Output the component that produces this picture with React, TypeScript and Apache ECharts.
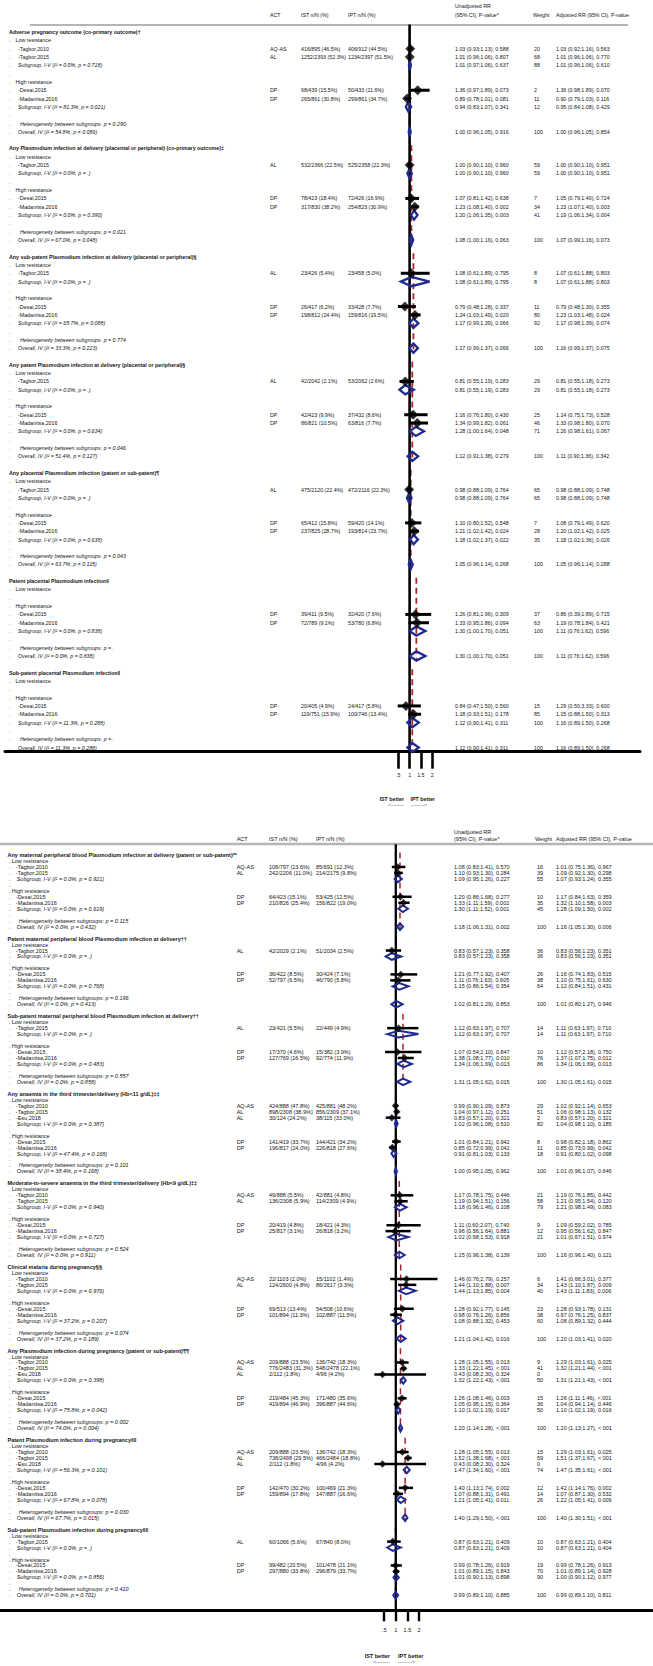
import React, { useEffect, useRef } from "react";
import * as echarts from "echarts";

type Row = (string | number)[];

// Row kinds: T = outcome title, G = resistance group, S = study, D = subgroup pooled,
// "." = spacer dot, H = heterogeneity, O = overall pooled, B = blank
// Study / pooled rows: [kind, label, ACT, IST n/N, IPT n/N, RR, lo, hi, p, weight, adjusted]

// ---------------- TOP PANEL ----------------
const adverseOutcome: Row[] = [
  ["T", "Adverse pregnancy outcome (co-primary outcome)†"],
  ["G", "Low resistance"],
  ["S", "-Tagbor,2010", "AQ-AS", "416/895 (46.5%)", "406/912 (44.5%)", 1.03, 0.93, 1.13, "0.588", "20", "1.03 (0.92;1.16), 0.563"],
  ["S", "-Tagbor,2015", "AL", "1252/2393 (52.3%)", "1234/2397 (51.5%)", 1.01, 0.96, 1.06, "0.807", "68", "1.01 (0.96;1.06), 0.770"],
  ["D", "Subgroup, I-V (I² = 0.0%, p = 0.718)", "", "", "", 1.01, 0.97, 1.06, "0.637", "88", "1.01 (0.96;1.06), 0.610"],
  [".", ""],
  ["G", "High resistance"],
  ["S", "-Desai,2015", "DP", "68/439 (15.5%)", "50/433 (11.6%)", 1.36, 0.97, 1.89, "0.073", "2", "1.36 (0.98;1.89), 0.070"],
  ["S", "-Madanitsa,2016", "DP", "265/861 (30.8%)", "299/861 (34.7%)", 0.89, 0.78, 1.01, "0.081", "11", "0.90 (0.79;1.03), 0.116"],
  ["D", "Subgroup, I-V (I² = 81.3%, p = 0.021)", "", "", "", 0.94, 0.83, 1.07, "0.341", "12", "0.95 (0.84;1.08), 0.429"],
  [".", ""],
  ["H", "Heterogeneity between subgroups: p = 0.290"],
  ["O", "Overall, IV (I² = 54.8%, p = 0.086)", "", "", "", 1.0, 0.96, 1.05, "0.916", "100", "1.00 (0.96;1.05), 0.854"],
];

const anyInfectionDelivery: Row[] = [
  ["T", "Any Plasmodium infection at delivery (placental or peripheral) (co-primary outcome)‡"],
  ["G", "Low resistance"],
  ["S", "-Tagbor,2015", "AL", "532/2366 (22.5%)", "525/2358 (22.3%)", 1.0, 0.9, 1.1, "0.960", "59", "1.00 (0.90;1.10), 0.951"],
  ["D", "Subgroup, I-V (I² = 0.0%, p = .)", "", "", "", 1.0, 0.9, 1.1, "0.960", "59", "1.00 (0.90;1.10), 0.951"],
  [".", ""],
  ["G", "High resistance"],
  ["S", "-Desai,2015", "DP", "78/423 (18.4%)", "72/426 (16.9%)", 1.07, 0.81, 1.42, "0.638", "7", "1.05 (0.79;1.40), 0.724"],
  ["S", "-Madanitsa,2016", "DP", "317/830 (38.2%)", "254/823 (30.9%)", 1.23, 1.08, 1.4, "0.002", "34", "1.23 (1.07;1.40), 0.003"],
  ["D", "Subgroup, I-V (I² = 0.0%, p = 0.390)", "", "", "", 1.2, 1.06, 1.35, "0.003", "41", "1.19 (1.06;1.34), 0.004"],
  [".", ""],
  ["H", "Heterogeneity between subgroups: p = 0.021"],
  ["O", "Overall, IV (I² = 67.0%, p = 0.048)", "", "", "", 1.08, 1.0, 1.16, "0.063", "100", "1.07 (0.99;1.16), 0.073"],
];

const subPatentDelivery: Row[] = [
  ["T", "Any sub-patent Plasmodium infection at delivery (placental or peripheral)§"],
  ["G", "Low resistance"],
  ["S", "-Tagbor,2015", "AL", "23/426 (5.4%)", "23/458 (5.0%)", 1.08, 0.61, 1.89, "0.795", "8", "1.07 (0.61;1.88), 0.803"],
  ["D", "Subgroup, I-V (I² = 0.0%, p = .)", "", "", "", 1.08, 0.61, 1.89, "0.795", "8", "1.07 (0.61;1.88), 0.803"],
  [".", ""],
  ["G", "High resistance"],
  ["S", "-Desai,2015", "DP", "26/417 (6.2%)", "33/428 (7.7%)", 0.79, 0.48, 1.28, "0.337", "11", "0.79 (0.48;1.30), 0.355"],
  ["S", "-Madanitsa,2016", "DP", "198/812 (24.4%)", "159/816 (19.5%)", 1.24, 1.03, 1.49, "0.020", "80", "1.23 (1.03;1.48), 0.024"],
  ["D", "Subgroup, I-V (I² = 65.7%, p = 0.088)", "", "", "", 1.17, 0.99, 1.39, "0.066", "92", "1.17 (0.98;1.39), 0.074"],
  [".", ""],
  ["H", "Heterogeneity between subgroups: p = 0.774"],
  ["O", "Overall, IV (I² = 33.3%, p = 0.223)", "", "", "", 1.17, 0.99, 1.37, "0.066", "100", "1.16 (0.99;1.37), 0.075"],
];

const patentDelivery: Row[] = [
  ["T", "Any patent Plasmodium infection at delivery (placental or peripheral)§"],
  ["G", "Low resistance"],
  ["S", "-Tagbor,2015", "AL", "42/2042 (2.1%)", "53/2062 (2.6%)", 0.81, 0.55, 1.19, "0.283", "29", "0.81 (0.55;1.18), 0.273"],
  ["D", "Subgroup, I-V (I² = 0.0%, p = .)", "", "", "", 0.81, 0.55, 1.19, "0.283", "29", "0.81 (0.55;1.18), 0.273"],
  [".", ""],
  ["G", "High resistance"],
  ["S", "-Desai,2015", "DP", "42/423 (9.9%)", "37/432 (8.6%)", 1.16, 0.76, 1.8, "0.430", "25", "1.14 (0.75;1.73), 0.528"],
  ["S", "-Madanitsa,2016", "DP", "86/821 (10.5%)", "63/816 (7.7%)", 1.34, 0.99, 1.82, "0.061", "46", "1.33 (0.98;1.80), 0.070"],
  ["D", "Subgroup, I-V (I² = 0.0%, p = 0.634)", "", "", "", 1.28, 1.0, 1.64, "0.048", "71", "1.26 (0.98;1.61), 0.067"],
  [".", ""],
  ["H", "Heterogeneity between subgroups: p = 0.046"],
  ["O", "Overall, IV (I² = 51.4%, p = 0.127)", "", "", "", 1.12, 0.91, 1.38, "0.279", "100", "1.11 (0.90;1.36), 0.342"],
];

const anyPlacental: Row[] = [
  ["T", "Any placental Plasmodium infection (patent or sub-patent)¶"],
  ["G", "Low resistance"],
  ["S", "-Tagbor,2015", "AL", "475/2120 (22.4%)", "472/2116 (22.3%)", 0.98, 0.88, 1.09, "0.764", "65", "0.98 (0.88;1.09), 0.748"],
  ["D", "Subgroup, I-V (I² = 0.0%, p = .)", "", "", "", 0.98, 0.88, 1.09, "0.764", "65", "0.98 (0.88;1.09), 0.748"],
  [".", ""],
  ["G", "High resistance"],
  ["S", "-Desai,2015", "DP", "65/412 (15.8%)", "59/420 (14.1%)", 1.1, 0.8, 1.52, "0.548", "7", "1.08 (0.79;1.49), 0.620"],
  ["S", "-Madanitsa,2016", "DP", "237/825 (28.7%)", "193/814 (23.7%)", 1.21, 1.02, 1.42, "0.024", "28", "1.20 (1.02;1.42), 0.025"],
  ["D", "Subgroup, I-V (I² = 0.0%, p = 0.638)", "", "", "", 1.18, 1.02, 1.37, "0.022", "35", "1.18 (1.02;1.36), 0.026"],
  [".", ""],
  ["H", "Heterogeneity between subgroups: p = 0.043"],
  ["O", "Overall, IV (I² = 63.7%, p = 0.115)", "", "", "", 1.05, 0.96, 1.14, "0.268", "100", "1.05 (0.96;1.14), 0.288"],
];

const patentPlacental: Row[] = [
  ["T", "Patent placental Plasmodium infection‖"],
  ["G", "Low resistance"],
  [".", ""],
  ["G", "High resistance"],
  ["S", "-Desai,2015", "DP", "39/411 (9.5%)", "32/420 (7.6%)", 1.26, 0.81, 1.96, "0.309", "37", "0.86 (0.39;1.89), 0.715"],
  ["S", "-Madanitsa,2016", "DP", "72/789 (9.1%)", "53/780 (6.8%)", 1.33, 0.95, 1.86, "0.094", "63", "1.19 (0.78;1.84), 0.421"],
  ["D", "Subgroup, I-V (I² = 0.0%, p = 0.838)", "", "", "", 1.3, 1.0, 1.7, "0.051", "100", "1.11 (0.76;1.62), 0.596"],
  [".", ""],
  ["H", "Heterogeneity between subgroups: p = ."],
  ["O", "Overall, IV (I² = 0.0%, p = 0.838)", "", "", "", 1.3, 1.0, 1.7, "0.051", "100", "1.11 (0.76;1.62), 0.596"],
];

const subPatentPlacental: Row[] = [
  ["T", "Sub-patent placental Plasmodium infection‖"],
  ["G", "Low resistance"],
  [".", ""],
  ["G", "High resistance"],
  ["S", "-Desai,2015", "DP", "20/405 (4.9%)", "24/417 (5.8%)", 0.84, 0.47, 1.5, "0.560", "15", "1.29 (0.50;3.33), 0.600"],
  ["S", "-Madanitsa,2016", "DP", "119/751 (15.9%)", "100/746 (13.4%)", 1.18, 0.93, 1.51, "0.178", "85", "1.15 (0.88;1.50), 0.313"],
  ["D", "Subgroup, I-V (I² = 11.3%, p = 0.288)", "", "", "", 1.12, 0.9, 1.41, "0.311", "100", "1.16 (0.89;1.50), 0.268"],
  [".", ""],
  ["H", "Heterogeneity between subgroups: p = ."],
  ["O", "Overall, IV (I² = 11.3%, p = 0.288)", "", "", "", 1.12, 0.9, 1.41, "0.311", "100", "1.16 (0.89;1.50), 0.268"],
];

// ---------------- BOTTOM PANEL ----------------
const anyPeripheral: Row[] = [
  ["T", "Any maternal peripheral blood Plasmodium infection at delivery (patent or sub-patent)**"],
  ["G", "Low resistance"],
  ["S", "-Tagbor,2010", "AQ-AS", "108/797 (13.6%)", "85/691 (12.3%)", 1.08, 0.83, 1.41, "0.570", "16", "1.01 (0.75;1.36), 0.967"],
  ["S", "-Tagbor,2015", "AL", "242/2206 (11.0%)", "214/2175 (9.8%)", 1.1, 0.93, 1.3, "0.284", "39", "1.09 (0.92;1.30), 0.298"],
  ["D", "Subgroup, I-V (I² = 0.0%, p = 0.921)", "", "", "", 1.09, 0.95, 1.26, "0.227", "55", "1.07 (0.93;1.24), 0.355"],
  [".", ""],
  ["G", "High resistance"],
  ["S", "-Desai,2015", "DP", "64/423 (15.1%)", "53/425 (12.5%)", 1.2, 0.86, 1.68, "0.277", "10", "1.17 (0.84;1.63), 0.359"],
  ["S", "-Madanitsa,2016", "DP", "210/826 (25.4%)", "156/822 (19.0%)", 1.33, 1.11, 1.59, "0.002", "35", "1.32 (1.10;1.58), 0.003"],
  ["D", "Subgroup, I-V (I² = 0.0%, p = 0.619)", "", "", "", 1.3, 1.11, 1.52, "0.001", "45", "1.28 (1.09;1.50), 0.002"],
  [".", ""],
  ["H", "Heterogeneity between subgroups: p = 0.115"],
  ["O", "Overall, IV (I² = 0.0%, p = 0.432)", "", "", "", 1.18, 1.06, 1.31, "0.002", "100", "1.16 (1.05;1.30), 0.006"],
];

const patentPeripheral: Row[] = [
  ["T", "Patent maternal peripheral blood Plasmodium infection at delivery††"],
  ["G", "Low resistance"],
  ["S", "-Tagbor,2015", "AL", "42/2029 (2.1%)", "51/2034 (2.5%)", 0.83, 0.57, 1.23, "0.358", "36", "0.83 (0.56;1.23), 0.351"],
  ["D", "Subgroup, I-V (I² = 0.0%, p = .)", "", "", "", 0.83, 0.57, 1.23, "0.358", "36", "0.83 (0.56;1.23), 0.351"],
  [".", ""],
  ["G", "High resistance"],
  ["S", "-Desai,2015", "DP", "36/422 (8.5%)", "30/424 (7.1%)", 1.21, 0.77, 1.92, "0.407", "26", "1.16 (0.74;1.83), 0.515"],
  ["S", "-Madanitsa,2016", "DP", "52/797 (6.5%)", "46/790 (5.8%)", 1.11, 0.76, 1.63, "0.605", "38", "1.10 (0.75;1.61), 0.630"],
  ["D", "Subgroup, I-V (I² = 0.0%, p = 0.768)", "", "", "", 1.15, 0.86, 1.54, "0.354", "64", "1.12 (0.84;1.51), 0.431"],
  [".", ""],
  ["H", "Heterogeneity between subgroups: p = 0.196"],
  ["O", "Overall, IV (I² = 0.0%, p = 0.413)", "", "", "", 1.02, 0.81, 1.29, "0.853", "100", "1.01 (0.80;1.27), 0.946"],
];

const subPatentPeripheral: Row[] = [
  ["T", "Sub-patent maternal peripheral blood Plasmodium infection at delivery††"],
  ["G", "Low resistance"],
  ["S", "-Tagbor,2015", "AL", "23/421 (5.5%)", "22/449 (4.9%)", 1.12, 0.63, 1.97, "0.707", "14", "1.11 (0.63;1.97), 0.710"],
  ["D", "Subgroup, I-V (I² = 0.0%, p = .)", "", "", "", 1.12, 0.63, 1.97, "0.707", "14", "1.11 (0.63;1.97), 0.710"],
  [".", ""],
  ["G", "High resistance"],
  ["S", "-Desai,2015", "DP", "17/370 (4.6%)", "15/382 (3.9%)", 1.07, 0.54, 2.1, "0.847", "10", "1.12 (0.57;2.18), 0.750"],
  ["S", "-Madanitsa,2016", "DP", "127/769 (16.5%)", "92/774 (11.9%)", 1.38, 1.08, 1.77, "0.010", "76", "1.37 (1.07;1.75), 0.012"],
  ["D", "Subgroup, I-V (I² = 0.0%, p = 0.483)", "", "", "", 1.34, 1.06, 1.69, "0.013", "86", "1.34 (1.06;1.69), 0.013"],
  [".", ""],
  ["H", "Heterogeneity between subgroups: p = 0.557"],
  ["O", "Overall, IV (I² = 0.0%, p = 0.858)", "", "", "", 1.31, 1.05, 1.62, "0.015", "100", "1.30 (1.05;1.61), 0.015"],
];

const anyAnaemia: Row[] = [
  ["T", "Any anaemia in the third trimester/delivery (Hb<11 g/dL)‡‡"],
  ["G", "Low resistance"],
  ["S", "-Tagbor,2010", "AQ-AS", "424/888 (47.8%)", "425/881 (48.2%)", 0.99, 0.9, 1.09, "0.873", "29", "1.02 (0.92;1.14), 0.653"],
  ["S", "-Tagbor,2015", "AL", "898/2308 (38.9%)", "856/2309 (37.1%)", 1.04, 0.97, 1.12, "0.251", "51", "1.06 (0.98;1.13), 0.132"],
  ["S", "-Esu,2018", "AL", "30/124 (24.2%)", "38/115 (33.0%)", 0.83, 0.57, 1.2, "0.321", "2", "0.83 (0.57;1.20), 0.321"],
  ["D", "Subgroup, I-V (I² = 0.0%, p = 0.387)", "", "", "", 1.02, 0.96, 1.08, "0.510", "82", "1.04 (0.98;1.10), 0.185"],
  [".", ""],
  ["G", "High resistance"],
  ["S", "-Desai,2015", "DP", "141/419 (33.7%)", "144/421 (34.2%)", 1.01, 0.84, 1.21, "0.942", "8", "0.98 (0.82;1.18), 0.862"],
  ["S", "-Madanitsa,2016", "DP", "196/817 (24.0%)", "226/818 (27.6%)", 0.85, 0.72, 0.99, "0.042", "11", "0.85 (0.73;0.99), 0.042"],
  ["D", "Subgroup, I-V (I² = 47.4%, p = 0.168)", "", "", "", 0.91, 0.81, 1.03, "0.133", "18", "0.91 (0.80;1.02), 0.098"],
  [".", ""],
  ["H", "Heterogeneity between subgroups: p = 0.101"],
  ["O", "Overall, IV (I² = 38.4%, p = 0.168)", "", "", "", 1.0, 0.95, 1.05, "0.962", "100", "1.01 (0.96;1.07), 0.646"],
];

const severeAnaemia: Row[] = [
  ["T", "Moderate-to-severe anaemia in the third trimester/delivery (Hb<9 g/dL)‡‡"],
  ["G", "Low resistance"],
  ["S", "-Tagbor,2010", "AQ-AS", "49/888 (5.5%)", "42/881 (4.8%)", 1.17, 0.78, 1.75, "0.446", "21", "1.19 (0.76;1.85), 0.442"],
  ["S", "-Tagbor,2015", "AL", "136/2308 (5.9%)", "114/2309 (4.9%)", 1.19, 0.94, 1.51, "0.156", "58", "1.21 (0.95;1.54), 0.120"],
  ["D", "Subgroup, I-V (I² = 0.0%, p = 0.940)", "", "", "", 1.18, 0.96, 1.46, "0.108", "79", "1.21 (0.98;1.49), 0.083"],
  [".", ""],
  ["G", "High resistance"],
  ["S", "-Desai,2015", "DP", "20/419 (4.8%)", "18/421 (4.3%)", 1.11, 0.6, 2.07, "0.740", "9", "1.09 (0.59;2.02), 0.785"],
  ["S", "-Madanitsa,2016", "DP", "25/817 (3.1%)", "26/818 (3.2%)", 0.96, 0.56, 1.64, "0.881", "12", "0.95 (0.56;1.62), 0.847"],
  ["D", "Subgroup, I-V (I² = 0.0%, p = 0.727)", "", "", "", 1.02, 0.68, 1.53, "0.918", "21", "1.01 (0.67;1.51), 0.974"],
  [".", ""],
  ["H", "Heterogeneity between subgroups: p = 0.524"],
  ["O", "Overall, IV (I² = 0.0%, p = 0.911)", "", "", "", 1.15, 0.96, 1.38, "0.139", "100", "1.16 (0.96;1.40), 0.121"],
];

const clinicalMalaria: Row[] = [
  ["T", "Clinical malaria during pregnancy§§"],
  ["G", "Low resistance"],
  ["S", "-Tagbor,2010", "AQ-AS", "22/1103 (2.0%)", "15/1102 (1.4%)", 1.46, 0.76, 2.79, "0.257", "6", "1.41 (0.66;3.01), 0.377"],
  ["S", "-Tagbor,2015", "AL", "124/2600 (4.8%)", "86/2617 (3.3%)", 1.44, 1.1, 1.88, "0.007", "34", "1.43 (1.10;1.87), 0.009"],
  ["D", "Subgroup, I-V (I² = 0.0%, p = 0.976)", "", "", "", 1.44, 1.13, 1.85, "0.004", "40", "1.43 (1.11;1.83), 0.006"],
  [".", ""],
  ["G", "High resistance"],
  ["S", "-Desai,2015", "DP", "69/513 (13.4%)", "54/508 (10.6%)", 1.28, 0.92, 1.77, "0.145", "23", "1.28 (0.93;1.78), 0.131"],
  ["S", "-Madanitsa,2016", "DP", "101/894 (11.3%)", "102/887 (11.5%)", 0.98, 0.76, 1.26, "0.856", "38", "0.97 (0.76;1.25), 0.837"],
  ["D", "Subgroup, I-V (I² = 37.2%, p = 0.207)", "", "", "", 1.08, 0.88, 1.32, "0.453", "60", "1.08 (0.89;1.32), 0.444"],
  [".", ""],
  ["H", "Heterogeneity between subgroups: p = 0.074"],
  ["O", "Overall, IV (I² = 37.2%, p = 0.189)", "", "", "", 1.21, 1.04, 1.42, "0.016", "100", "1.20 (1.03;1.41), 0.020"],
];

const anyPregnancyInfection: Row[] = [
  ["T", "Any Plasmodium infection during pregnancy (patent or sub-patent)¶¶"],
  ["G", "Low resistance"],
  ["S", "-Tagbor,2010", "AQ-AS", "209/888 (23.5%)", "136/742 (18.3%)", 1.28, 1.05, 1.55, "0.013", "9", "1.29 (1.03;1.61), 0.025"],
  ["S", "-Tagbor,2015", "AL", "776/2483 (31.3%)", "548/2478 (22.1%)", 1.33, 1.22, 1.45, "<.001", "41", "1.32 (1.21;1.44), <.001"],
  ["S", "-Esu,2018", "AL", "2/112 (1.8%)", "4/96 (4.2%)", 0.43, 0.08, 2.3, "0.324", "0", ""],
  ["D", "Subgroup, I-V (I² = 0.0%, p = 0.398)", "", "", "", 1.32, 1.22, 1.43, "<.001", "50", "1.31 (1.21;1.43), <.001"],
  [".", ""],
  ["G", "High resistance"],
  ["S", "-Desai,2015", "DP", "219/484 (45.3%)", "171/480 (35.6%)", 1.26, 1.08, 1.46, "0.003", "15", "1.26 (1.11;1.46), <.001"],
  ["S", "-Madanitsa,2016", "DP", "419/894 (46.9%)", "396/887 (44.6%)", 1.05, 0.95, 1.15, "0.364", "36", "1.04 (0.94;1.14), 0.446"],
  ["D", "Subgroup, I-V (I² = 75.8%, p = 0.042)", "", "", "", 1.1, 1.02, 1.19, "0.017", "50", "1.10 (1.02;1.19), 0.016"],
  [".", ""],
  ["H", "Heterogeneity between subgroups: p = 0.002"],
  ["O", "Overall, IV (I² = 74.0%, p = 0.004)", "", "", "", 1.2, 1.14, 1.28, "<.001", "100", "1.20 (1.13;1.27), <.001"],
];

const patentPregnancy: Row[] = [
  ["T", "Patent Plasmodium infection during pregnancy‖‖"],
  ["G", "Low resistance"],
  ["S", "-Tagbor,2010", "AQ-AS", "209/888 (23.5%)", "136/742 (18.3%)", 1.28, 1.05, 1.55, "0.013", "15", "1.29 (1.03;1.61), 0.025"],
  ["S", "-Tagbor,2015", "AL", "738/2498 (29.5%)", "466/2484 (18.8%)", 1.52, 1.38, 1.68, "<.001", "59", "1.51 (1.37;1.67), <.001"],
  ["S", "-Esu,2018", "AL", "2/112 (1.8%)", "4/96 (4.2%)", 0.43, 0.08, 2.3, "0.324", "0", ""],
  ["D", "Subgroup, I-V (I² = 56.3%, p = 0.101)", "", "", "", 1.47, 1.34, 1.6, "<.001", "74", "1.47 (1.35;1.61), <.001"],
  [".", ""],
  ["G", "High resistance"],
  ["S", "-Desai,2015", "DP", "142/470 (30.2%)", "100/469 (21.3%)", 1.4, 1.13, 1.74, "0.002", "12", "1.42 (1.14;1.76), 0.002"],
  ["S", "-Madanitsa,2016", "DP", "159/894 (17.8%)", "147/887 (16.6%)", 1.07, 0.88, 1.31, "0.491", "14", "1.07 (0.87;1.30), 0.532"],
  ["D", "Subgroup, I-V (I² = 67.8%, p = 0.078)", "", "", "", 1.21, 1.05, 1.41, "0.011", "26", "1.22 (1.05;1.41), 0.009"],
  [".", ""],
  ["H", "Heterogeneity between subgroups: p = 0.030"],
  ["O", "Overall, IV (I² = 67.7%, p = 0.015)", "", "", "", 1.4, 1.29, 1.5, "<.001", "100", "1.40 (1.30;1.51), <.001"],
];

const subPatentPregnancy: Row[] = [
  ["T", "Sub-patent Plasmodium infection during pregnancy‖‖"],
  ["G", "Low resistance"],
  ["S", "-Tagbor,2015", "AL", "60/1066 (5.6%)", "67/840 (8.0%)", 0.87, 0.63, 1.21, "0.409", "10", "0.87 (0.63;1.21), 0.404"],
  ["D", "Subgroup, I-V (I² = 0.0%, p = .)", "", "", "", 0.87, 0.63, 1.21, "0.409", "10", "0.87 (0.63;1.21), 0.404"],
  [".", ""],
  ["G", "High resistance"],
  ["S", "-Desai,2015", "DP", "99/482 (20.5%)", "101/478 (21.1%)", 0.99, 0.78, 1.26, "0.919", "19", "0.99 (0.78;1.26), 0.913"],
  ["S", "-Madanitsa,2016", "DP", "297/880 (33.8%)", "296/879 (33.7%)", 1.01, 0.89, 1.15, "0.843", "70", "1.01 (0.89;1.14), 0.928"],
  ["D", "Subgroup, I-V (I² = 0.0%, p = 0.856)", "", "", "", 1.01, 0.9, 1.13, "0.898", "90", "1.00 (0.90;1.12), 0.977"],
  [".", ""],
  ["H", "Heterogeneity between subgroups: p = 0.410"],
  ["O", "Overall, IV (I² = 0.0%, p = 0.701)", "", "", "", 0.99, 0.89, 1.1, "0.885", "100", "0.99 (0.89;1.10), 0.811"],
];

const topSections = [adverseOutcome, anyInfectionDelivery, subPatentDelivery, patentDelivery, anyPlacental, patentPlacental, subPatentPlacental];
const bottomSections = [anyPeripheral, patentPeripheral, subPatentPeripheral, anyAnaemia, severeAnaemia, clinicalMalaria, anyPregnancyInfection, patentPregnancy, subPatentPregnancy];

const tickValues = [0.5, 1, 1.5, 2];
const tickLabels = [".5", "1", "1.5", "2"];
const headerRow1 = ["Unadjusted RR"];
const headerRow2 = ["ACT", "IST n/N (%)", "IPT n/N (%)", "(95% CI), P-value*", "Weight", "Adjusted RR (95% CI), P-value"];
const directionLabels = ["IST better", "IPT better"];
const arrowLabels = ["<---------", "--------->"];

// ---------------- STYLE / LAYOUT ----------------
const FONT = "'Liberation Sans', Arial, Helvetica, sans-serif";
const TEXT = "#151515";
const NAVY = "#1f2a8f";
const MAROON = "#a3262d";

const PANEL_STYLE = [
  {
    grid: { left: 5, right: 13, top: 24.5, height: 727.2 },
    xMin: -16.982, xMax: 11.24, yMin: -0.9, yMax: 86.5,
    font: 5.3,
    x: { dot: 9, title: 9, group: 15.5, study: 18, sub: 18, het: 20, overall: 18, act: 270, ist: 301, ipt: 348, unadj: 455, weight: 534, wHead: 533, adj: 556 },
    header: { y1: 6, y2: 15, line: { x1: 30, x2: 628, y: 25, w: 2 } },
    dir: { y: 799, ay: 805, xr: 404, xl: 410.5 },
    marker: 10, ciW: 3, dH: 4.6, dLW: 2.3, nullW: 2.6, dashW: 1.8, tickLen: 17, tickW: 2.6, axisW: 3, labelMargin: 21,
  },
  {
    grid: { left: 0, right: 1, top: 844.25, height: 766 },
    xMin: -15.987, xMax: 11.996, yMin: -1.8, yMax: 126.5,
    font: 5.5,
    x: { dot: 9, title: 7.5, group: 11.7, study: 15.8, sub: 16.7, het: 18.7, overall: 16.7, act: 236.7, ist: 269, ipt: 316, unadj: 454, weight: 537, wHead: 535, adj: 556 },
    header: { y1: 832, y2: 838.5, line: { x1: 0, x2: 653, y: 844, w: 2.5 } },
    dir: { y: 1656, ay: 1662, xr: 390, xl: 398 },
    marker: 7.5, ciW: 2.5, dH: 3.3, dLW: 2, nullW: 2.3, dashW: 1.5, tickLen: 11, tickW: 2.4, axisW: 3, labelMargin: 17,
  },
];

function buildPanel(sections: Row[][]) {
  const rows: Row[] = [];
  const dashes: number[][] = [];
  sections.forEach((sec, si) => {
    if (si > 0) rows.push(["B", ""]);
    const start = rows.length;
    sec.forEach((r) => rows.push(r));
    const ov = sec[sec.length - 1];
    dashes.push([ov[5] as number, start, rows.length - 1]);
  });
  const studies: number[][] = [];
  const cis: number[][] = [];
  const diamonds: number[][] = [];
  rows.forEach((r, i) => {
    if (r[0] === "S") {
      studies.push([r[5] as number, i]);
      cis.push([r[6] as number, r[7] as number, i]);
    }
    if (r[0] === "D" || r[0] === "O") diamonds.push([r[5] as number, r[6] as number, r[7] as number, i]);
  });
  return { rows, dashes, studies, cis, diamonds };
}

const f2 = (v: any) => (v as number).toFixed(2);

function buildOption() {
  const panels = [buildPanel(topSections), buildPanel(bottomSections)];
  const grids: any[] = [];
  const xAxes: any[] = [];
  const yAxes: any[] = [];
  const series: any[] = [];
  const graphic: any[] = [];

  panels.forEach((pd, p) => {
    const st = PANEL_STYLE[p];
    grids.push({ ...st.grid });
    xAxes.push({
      gridIndex: p, type: "value", min: st.xMin, max: st.xMax, position: "bottom",
      axisLine: { show: true, onZero: false, lineStyle: { color: "#000", width: st.axisW } },
      axisTick: { show: true, inside: false, customValues: tickValues, length: st.tickLen, lineStyle: { color: "#000", width: st.tickW } },
      axisLabel: {
        show: true, customValues: tickValues, margin: st.labelMargin, fontSize: st.font, fontFamily: FONT, color: TEXT,
        formatter: (v: number) => { const k = tickValues.indexOf(v); return k >= 0 ? tickLabels[k] : ""; },
      },
      splitLine: { show: false },
    });
    yAxes.push({ gridIndex: p, type: "value", inverse: true, min: st.yMin, max: st.yMax, show: false, splitLine: { show: false } });

    const common = { xAxisIndex: p, yAxisIndex: p, silent: true, animation: false };

    // red dashed overall lines
    series.push({
      ...common, type: "custom", coordinateSystem: "cartesian2d", z: 2, data: pd.dashes, encode: { x: 0, y: [1, 2] },
      renderItem: (_: any, api: any) => {
        const a = api.coord([api.value(0), api.value(1) - 0.4]);
        const b = api.coord([api.value(0), api.value(2) + 0.5]);
        return { type: "line", shape: { x1: a[0], y1: a[1], x2: b[0], y2: b[1] }, style: { stroke: MAROON, lineWidth: st.dashW, lineDash: [6, 4] } };
      },
    });
    // null line
    series.push({ ...common, type: "line", z: 3, data: [[1, st.yMin], [1, st.yMax]], symbol: "none", lineStyle: { color: "#000", width: st.nullW } });
    // pooled diamonds
    series.push({
      ...common, type: "custom", coordinateSystem: "cartesian2d", z: 4, data: pd.diamonds, encode: { x: [0, 1, 2], y: 3 },
      renderItem: (_: any, api: any) => {
        const c = api.coord([api.value(0), api.value(3)]);
        const l = api.coord([api.value(1), api.value(3)]);
        const h = api.coord([api.value(2), api.value(3)]);
        return {
          type: "polygon",
          shape: { points: [[l[0], c[1]], [c[0], c[1] - st.dH], [h[0], c[1]], [c[0], c[1] + st.dH]] },
          style: { fill: "none", stroke: NAVY, lineWidth: st.dLW },
        };
      },
    });
    // CI lines
    series.push({
      ...common, type: "custom", coordinateSystem: "cartesian2d", z: 5, data: pd.cis, encode: { x: [0, 1], y: 2 },
      renderItem: (_: any, api: any) => {
        const a = api.coord([api.value(0), api.value(2)]);
        const b = api.coord([api.value(1), api.value(2)]);
        return { type: "line", shape: { x1: a[0], y1: a[1], x2: b[0], y2: b[1] }, style: { stroke: "#000", lineWidth: st.ciW } };
      },
    });
    // study point estimates
    series.push({ ...common, type: "scatter", z: 6, data: pd.studies, symbol: "diamond", symbolSize: st.marker, itemStyle: { color: "#000" } });
    // row texts
    series.push({
      ...common, type: "custom", coordinateSystem: "cartesian2d", z: 7, data: pd.rows.map((_, i) => [0, i]), encode: { x: 0, y: 1 },
      renderItem: (params: any, api: any) => {
        const r = pd.rows[params.dataIndex];
        const y = api.coord([0, params.dataIndex])[1];
        const kids: any[] = [];
        const add = (x: number, text: any, extra: any = {}) =>
          kids.push({ type: "text", x, y, style: { text: String(text), fontSize: st.font, fontFamily: FONT, fill: TEXT, verticalAlign: "middle", align: "left", ...extra } });
        const k = r[0];
        const it = { fontStyle: "italic" };
        if (k === "T") add(st.x.title, r[1], { fontWeight: "bold" });
        else if (k !== "B") add(st.x.dot, ".");
        if (k === "G") add(st.x.group, r[1]);
        if (k === "H") add(st.x.het, r[1], it);
        if (k === "S" || k === "D" || k === "O") {
          const lx = k === "S" ? st.x.study : k === "D" ? st.x.sub : st.x.overall;
          add(lx, r[1], k === "S" ? {} : it);
          if (r[2]) add(st.x.act, r[2]);
          if (r[3]) add(st.x.ist, r[3]);
          if (r[4]) add(st.x.ipt, r[4]);
          add(st.x.unadj, `${f2(r[5])} (${f2(r[6])};${f2(r[7])}), ${r[8]}`);
          add(st.x.weight, r[9]);
          if (r[10]) add(st.x.adj, r[10]);
        }
        return { type: "group", children: kids };
      },
    });

    // header texts & rule
    const hs = { fontSize: st.font, fontFamily: FONT, fill: TEXT, verticalAlign: "middle", align: "left" };
    graphic.push({ type: "text", x: st.x.unadj, y: st.header.y1, style: { ...hs, text: headerRow1[0] } });
    const hx = [st.x.act, st.x.ist, st.x.ipt, st.x.unadj, st.x.wHead, st.x.adj];
    headerRow2.forEach((t, i) => graphic.push({ type: "text", x: hx[i], y: st.header.y2, style: { ...hs, text: t } }));
    graphic.push({
      type: "line", z: 1,
      shape: { x1: st.header.line.x1, y1: st.header.line.y, x2: st.header.line.x2, y2: st.header.line.y },
      style: { stroke: "#b5b5b5", lineWidth: st.header.line.w },
    });
    // direction labels
    graphic.push({ type: "text", x: st.dir.xr, y: st.dir.y, style: { ...hs, align: "right", fontWeight: "bold", text: directionLabels[0] } });
    graphic.push({ type: "text", x: st.dir.xl, y: st.dir.y, style: { ...hs, align: "left", fontWeight: "bold", text: directionLabels[1] } });
    graphic.push({ type: "text", x: st.dir.xr, y: st.dir.ay, style: { ...hs, align: "right", fontSize: st.font - 0.8, fill: "#555", text: arrowLabels[0] } });
    graphic.push({ type: "text", x: st.dir.xl, y: st.dir.ay, style: { ...hs, align: "left", fontSize: st.font - 0.8, fill: "#555", text: arrowLabels[1] } });
  });

  return {
    animation: false,
    backgroundColor: "#ffffff",
    textStyle: { fontFamily: FONT },
    grid: grids,
    xAxis: xAxes,
    yAxis: yAxes,
    series,
    graphic,
  };
}

export default function App() {
  const ref = useRef<HTMLDivElement>(null);
  useEffect(() => {
    if (!ref.current) return;
    const chart = echarts.init(ref.current, undefined, { renderer: "svg" });
    chart.setOption(buildOption() as any);
    return () => chart.dispose();
  }, []);
  return <div ref={ref} style={{ position: "absolute", left: 0, top: 0, width: 653, height: 1666, background: "#fff" }} />;
}
